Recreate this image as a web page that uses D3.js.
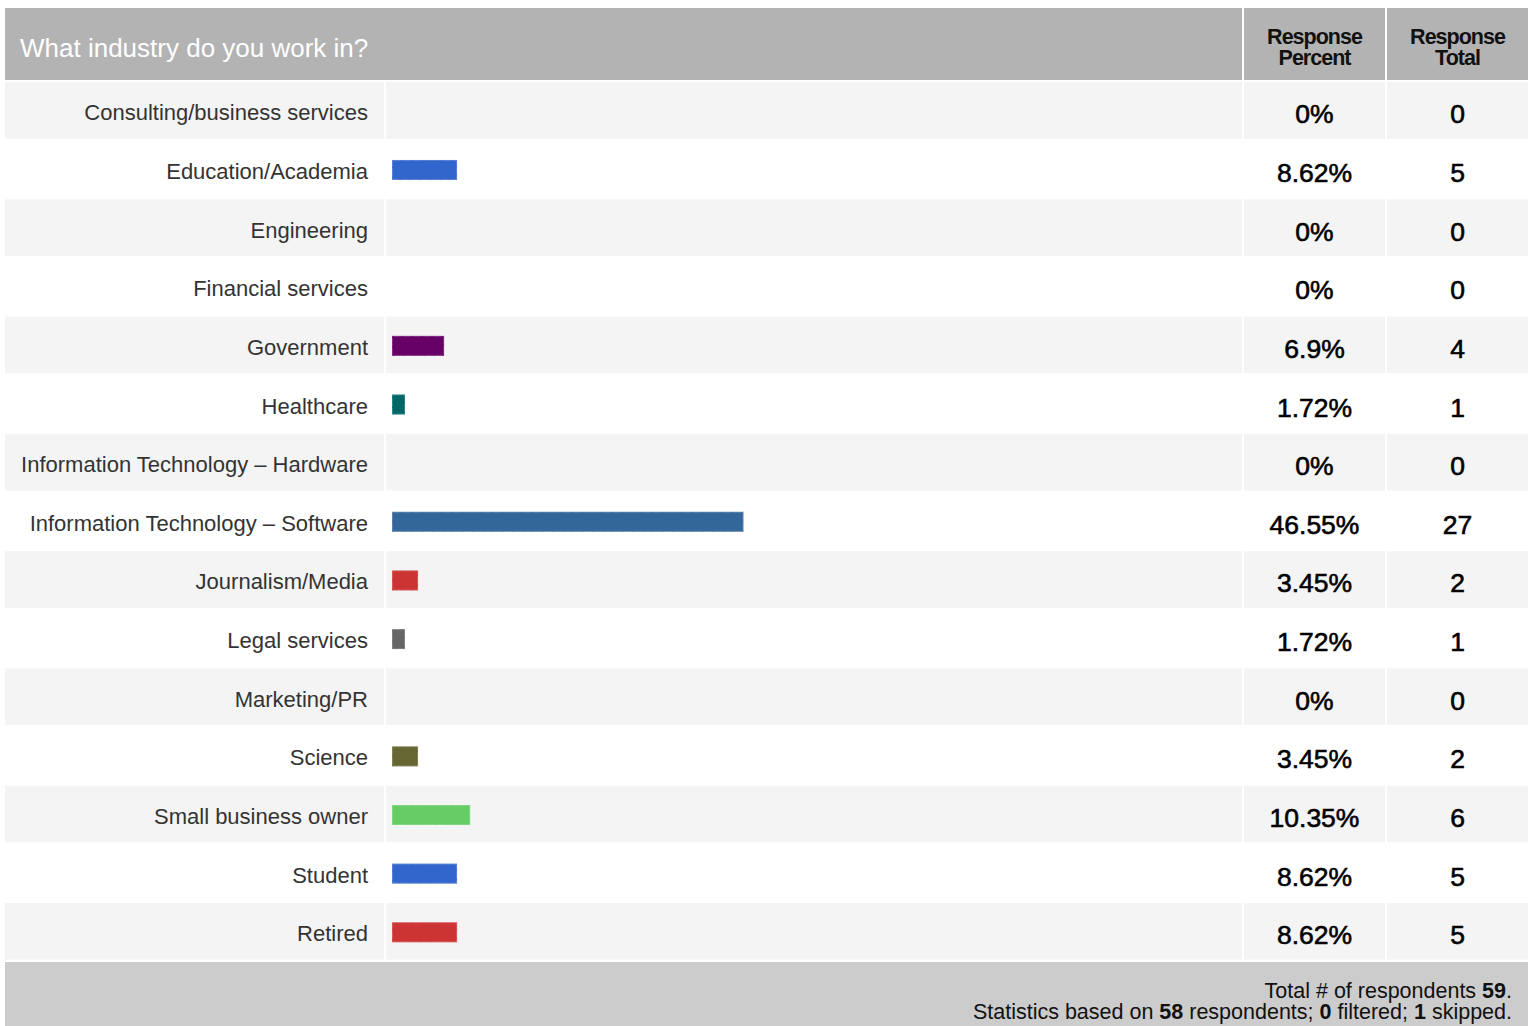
<!DOCTYPE html>
<html>
<head>
<meta charset="utf-8">
<script src="https://cdn.jsdelivr.net/npm/d3@7"></script>
<style>
  body { margin: 0; background: #fff; }
  svg { display: block; font-family: "Liberation Sans", Arial, sans-serif; }
</style>
</head>
<body>
<svg id="chart"></svg>
<script>
// DATA
const question = "What industry do you work in?";
const categories = [
  "Consulting/business services", "Education/Academia", "Engineering",
  "Financial services", "Government", "Healthcare",
  "Information Technology \u2013 Hardware", "Information Technology \u2013 Software",
  "Journalism/Media", "Legal services", "Marketing/PR", "Science",
  "Small business owner", "Student", "Retired"
];
const percents = [0, 8.62, 0, 0, 6.9, 1.72, 0, 46.55, 3.45, 1.72, 0, 3.45, 10.35, 8.62, 8.62];
const totals = [0, 5, 0, 0, 4, 1, 0, 27, 2, 1, 0, 2, 6, 5, 5];
const barColors = [
  "#3366cc", "#3366cc", "#3366cc", "#3366cc", "#660066", "#006666",
  "#3366cc", "#336699", "#cc3333", "#666666", "#3366cc", "#666633",
  "#66cc66", "#3366cc", "#cc3333"
];
const respondents = 59, basedOn = 58, filtered = 0, skipped = 1;

// DIMENSIONS
const dims = { width: 1534, height: 1026 };
const left = 5, right = 1528;
const cols = { label: [left, 384], bar: [386, 1242], pct: [1244, 1385], tot: [1387, right] };

const svg = d3.select("#chart").attr("width", dims.width).attr("height", dims.height);

const rows = categories.map((c, i) => ({ name: c, pct: percents[i], total: totals[i], color: barColors[i], i }));

// SCALES
const y = d3.scaleBand().domain(categories).range([82, 959.6]).paddingInner(0.034).paddingOuter(0);
const x = d3.scaleLinear().domain([0, 100]).range([0, 755]);

// HEADER
svg.append("rect").attr("x", left).attr("y", 8).attr("width", right - left).attr("height", 72).attr("fill", "#b3b3b3");
[cols.pct[0] - 2, cols.tot[0] - 2].forEach(xx =>
  svg.append("rect").attr("x", xx).attr("y", 8).attr("width", 2).attr("height", 72).attr("fill", "#fff"));

svg.append("text").attr("x", 20).attr("y", 57).attr("fill", "#fff")
  .attr("font-size", 26).text(question);

[["Response", "Percent", cols.pct], ["Response", "Total", cols.tot]].forEach(([a, b, c]) => {
  const t = svg.append("text").attr("text-anchor", "middle").attr("font-size", 21.5)
    .attr("font-weight", "bold").attr("letter-spacing", -1).attr("fill", "#111");
  t.append("tspan").attr("x", (c[0] + c[1]) / 2).attr("y", 44).text(a);
  t.append("tspan").attr("x", (c[0] + c[1]) / 2).attr("y", 65).text(b);
});

// ROWS
const row = svg.append("g").selectAll("g.row").data(rows).join("g")
  .attr("class", "row")
  .attr("transform", d => `translate(0,${y(d.name)})`);

Object.values(cols).forEach(c => {
  row.append("rect").attr("x", c[0]).attr("width", c[1] - c[0]).attr("height", y.bandwidth())
    .attr("fill", d => d.i % 2 === 0 ? "#f4f4f4" : "#fff");
});

row.append("text").attr("x", 368).attr("y", y.bandwidth() / 2 + 10)
  .attr("text-anchor", "end").attr("font-size", 22).attr("fill", "#333")
  .text(d => d.name);

const bars = row.filter(d => d.pct > 0);
bars.append("rect").attr("x", 392).attr("y", y.bandwidth() / 2 - 9)
  .attr("width", d => x(d.pct)).attr("height", 20)
  .attr("fill", d => d.color);
// faint segment lines inside bars
bars.append("rect").attr("x", 392.5).attr("y", y.bandwidth() / 2 - 8.5)
  .attr("width", d => x(d.pct) - 1).attr("height", 19)
  .attr("fill", "none").attr("stroke", "#fff").attr("stroke-opacity", 0.2)
  .attr("stroke-dasharray", "9 1");

row.append("text").attr("x", (cols.pct[0] + cols.pct[1]) / 2).attr("y", y.bandwidth() / 2 + 13)
  .attr("text-anchor", "middle").attr("font-size", 26.5).attr("fill", "#000")
  .attr("stroke", "#000").attr("stroke-width", 0.6)
  .text(d => d.pct + "%");
row.append("text").attr("x", (cols.tot[0] + cols.tot[1]) / 2).attr("y", y.bandwidth() / 2 + 13)
  .attr("text-anchor", "middle").attr("font-size", 26.5).attr("fill", "#000")
  .attr("stroke", "#000").attr("stroke-width", 0.6)
  .text(d => d.total);

// FOOTER
svg.append("rect").attr("x", left).attr("y", 962).attr("width", right - left).attr("height", 70).attr("fill", "#cccccc");
const f1 = svg.append("text").attr("x", 1512).attr("y", 998).attr("text-anchor", "end").attr("font-size", 21.5).attr("fill", "#111");
f1.append("tspan").text("Total # of respondents ");
f1.append("tspan").attr("font-weight", "bold").text(respondents);
f1.append("tspan").text(".");
const f2 = svg.append("text").attr("x", 1512).attr("y", 1019).attr("text-anchor", "end").attr("font-size", 21.5).attr("fill", "#111");
f2.append("tspan").text("Statistics based on ");
f2.append("tspan").attr("font-weight", "bold").text(basedOn);
f2.append("tspan").text(" respondents; ");
f2.append("tspan").attr("font-weight", "bold").text(filtered);
f2.append("tspan").text(" filtered; ");
f2.append("tspan").attr("font-weight", "bold").text(skipped);
f2.append("tspan").text(" skipped.");
</script>
</body>
</html>
